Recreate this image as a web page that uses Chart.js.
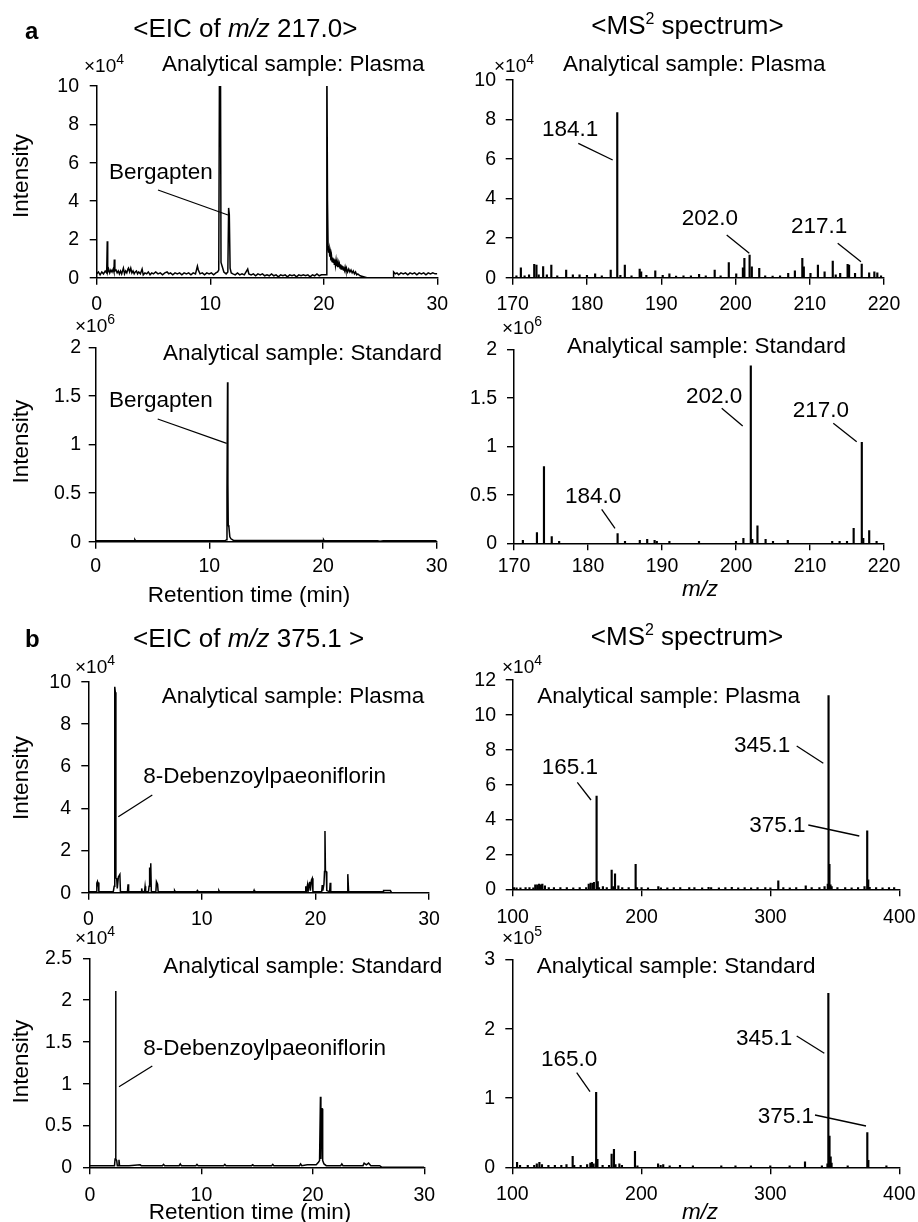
<!DOCTYPE html>
<html><head><meta charset="utf-8">
<script src="https://cdn.jsdelivr.net/npm/chart.js@4.4.1/dist/chart.umd.min.js"></script>
<style>
html,body{margin:0;padding:0;background:#fff;width:918px;height:1222px;overflow:hidden}
canvas{position:absolute;left:0;top:0}
</style></head><body>
<script>
// ---------------- DATA ----------------
// EIC traces: [retention time (min), intensity]
const eicPlasma217 = [[0,0.2],[0.15,0.3],[0.3,0.15],[0.45,0.3],[0.6,0.2],[0.75,0.35],[0.88,0.25],[0.93,1.9],[0.97,0.3],[1.05,0.45],[1.15,0.25],[1.25,0.4],[1.35,0.3],[1.45,0.45],[1.52,0.3],[1.55,0.95],[1.6,0.35],[1.7,0.4],[1.8,0.25],[1.9,0.35],[2.0,0.2],[2.1,0.35],[2.2,0.2],[2.35,0.5],[2.45,0.2],[2.55,0.35],[2.65,0.25],[2.75,0.45],[2.8,0.5],[2.9,0.3],[3.0,0.5],[3.1,0.25],[3.2,0.35],[3.3,0.2],[3.4,0.3],[3.5,0.35],[3.6,0.2],[3.7,0.3],[3.85,0.2],[4.0,0.45],[4.1,0.15],[4.25,0.25],[4.4,0.2],[4.55,0.3],[4.7,0.15],[4.85,0.25],[5.0,0.2],[5.2,0.3],[5.4,0.2],[5.6,0.25],[5.8,0.15],[6.0,0.25],[6.2,0.3],[6.35,0.2],[6.5,0.25],[6.7,0.15],[6.9,0.25],[7.1,0.2],[7.3,0.25],[7.5,0.15],[7.7,0.25],[7.9,0.2],[8.1,0.25],[8.3,0.15],[8.5,0.25],[8.7,0.2],[8.87,0.6],[8.95,0.4],[9.1,0.2],[9.3,0.25],[9.5,0.15],[9.7,0.25],[9.9,0.2],[10.1,0.25],[10.3,0.15],[10.5,0.25],[10.65,0.3],[10.75,0.4],[10.82,12],[10.9,12],[10.95,0.8],[11.05,0.6],[11.2,0.3],[11.4,0.2],[11.55,0.3],[11.62,3.64],[11.68,3.3],[11.75,0.5],[11.85,0.25],[12.0,0.2],[12.2,0.15],[12.4,0.25],[12.6,0.15],[12.8,0.2],[13.0,0.15],[13.3,0.45],[13.4,0.2],[13.6,0.15],[13.8,0.2],[14.0,0.1],[14.2,0.2],[14.4,0.15],[14.6,0.2],[14.8,0.1],[15.0,0.15],[15.2,0.1],[15.4,0.2],[15.6,0.1],[15.8,0.15],[16.0,0.05],[16.2,0.15],[16.4,0.1],[16.6,0.15],[16.8,0.05],[17.0,0.15],[17.2,0.1],[17.4,0.15],[17.6,0.05],[17.8,0.15],[18.0,0.1],[18.2,0.15],[18.4,0.1],[18.6,0.15],[18.8,0.05],[19.0,0.15],[19.2,0.1],[19.4,0.2],[19.6,0.1],[19.8,0.15],[20.0,0.15],[20.25,0.15],[20.27,12],[20.33,4.0],[20.38,1.6],[20.43,1.3],[20.48,1.5],[20.53,1.1],[20.58,1.3],[20.63,0.9],[20.68,1.15],[20.73,0.85],[20.78,1.05],[20.83,0.8],[20.88,1.0],[20.93,0.7],[20.98,0.95],[21.03,0.65],[21.08,0.9],[21.13,0.6],[21.18,0.8],[21.23,0.55],[21.28,0.75],[21.33,0.55],[21.38,0.7],[21.43,0.5],[21.48,0.7],[21.53,0.45],[21.58,0.65],[21.63,0.45],[21.68,0.6],[21.73,0.4],[21.78,0.55],[21.83,0.4],[21.88,0.55],[21.95,0.35],[22.0,0.5],[22.1,0.3],[22.2,0.45],[22.3,0.3],[22.4,0.4],[22.5,0.25],[22.6,0.35],[22.7,0.2],[22.8,0.3],[22.9,0.15],[23.0,0.2],[23.2,0.1],[23.5,0.05],[23.8,0],[26.1,0],[26.15,0.3],[26.3,0.2],[26.45,0.25],[26.6,0.15],[26.8,0.25],[27.0,0.2],[27.2,0.25],[27.4,0.15],[27.6,0.25],[27.8,0.2],[28.0,0.25],[28.2,0.15],[28.4,0.25],[28.6,0.2],[28.8,0.25],[29.0,0.15],[29.2,0.25],[29.4,0.2],[29.6,0.25],[29.8,0.2],[30,0.2]];
const eicStandard217 = [[0,0.01],[3.4,0.012],[3.45,0.02],[3.5,0.01],[11.4,0.01],[11.5,0.02],[11.55,0.5],[11.6,1.64],[11.63,0.6],[11.66,0.17],[11.72,0.15],[11.8,0.05],[11.9,0.03],[12.1,0.015],[20,0.012],[20.05,0.02],[20.1,0.01],[24.8,0.01],[25,0.005],[25.3,0.01],[30,0.01]];
const eicPlasma375 = [[0,0.05],[0.5,0.05],[0.7,0.05],[0.75,0.45],[0.8,0.52],[0.85,0.3],[0.88,0.48],[0.93,0.05],[1.5,0.05],[2.2,0.05],[2.28,0.3],[2.33,9.76],[2.38,9.5],[2.43,0.7],[2.5,0.68],[2.55,0.2],[2.65,0.75],[2.78,0.87],[2.83,0.05],[3.0,0.05],[3.45,0.05],[3.5,0.4],[3.55,0.05],[4.0,0.05],[4.65,0.05],[4.7,0.2],[4.75,0.05],[4.95,0.05],[5.0,0.3],[5.05,0.05],[5.3,0.05],[5.35,0.3],[5.4,1.2],[5.45,0.4],[5.5,1.39],[5.55,0.05],[5.95,0.05],[6.0,0.52],[6.1,0.4],[6.15,0.05],[7.55,0.05],[7.6,0.1],[7.65,0.05],[9.55,0.05],[9.6,0.1],[9.65,0.05],[11.45,0.05],[11.5,0.1],[11.55,0.05],[14.55,0.05],[14.6,0.12],[14.65,0.05],[19.1,0.05],[19.15,0.3],[19.2,0.05],[19.3,0.36],[19.35,0.05],[19.45,0.45],[19.5,0.52],[19.55,0.1],[19.65,0.6],[19.72,0.68],[19.78,0.05],[20.55,0.05],[20.6,0.36],[20.65,0.1],[20.75,0.4],[20.8,1.0],[20.84,2.92],[20.88,1.04],[20.95,1.0],[21.0,0.1],[21.25,0.05],[21.3,0.47],[21.35,0.05],[22.8,0.05],[22.85,0.88],[22.92,0.05],[25.95,0.05],[26.0,0.1],[26.6,0.1],[26.7,0]];
const eicStandard375 = [[0,0.02],[1.0,0.02],[2.2,0.02],[2.25,0.1],[2.3,2.11],[2.33,0.1],[2.4,0.08],[2.45,0.02],[2.55,0.02],[2.6,0.09],[2.65,0.02],[3.5,0.02],[4.5,0.03],[4.6,0.02],[6.5,0.02],[6.6,0.035],[6.7,0.02],[8.0,0.02],[8.1,0.04],[8.2,0.02],[9.5,0.02],[9.6,0.035],[9.7,0.02],[12,0.02],[12.1,0.035],[12.2,0.02],[14.5,0.02],[14.6,0.03],[14.7,0.02],[16.3,0.02],[16.4,0.035],[16.5,0.02],[18.8,0.02],[18.9,0.04],[19.0,0.02],[19.5,0.03],[20.3,0.03],[20.5,0.06],[20.6,0.08],[20.68,0.845],[20.72,0.1],[20.78,0.7],[20.83,0.7],[20.88,0.08],[21.0,0.04],[21.2,0.02],[22.5,0.02],[22.6,0.04],[22.7,0.02],[24.5,0.02],[24.6,0.05],[24.8,0.03],[25.0,0.05],[25.2,0.02],[26.0,0.02],[26.2,0],[30,0]];
// MS2 spectra: [m/z, intensity]
const ms2Plasma217 = [[170.5,0.1],[171.1,0.5],[171.6,0.1],[172.2,0.15],[172.9,0.67],[173.2,0.64],[173.5,0.15],[174.1,0.56],[174.6,0.15],[175.2,0.64],[176.0,0.1],[177.2,0.39],[178.1,0.15],[179.0,0.15],[180.0,0.12],[181.1,0.2],[182.0,0.1],[183.2,0.39],[184.08,8.35],[184.5,0.12],[185.1,0.64],[186.0,0.1],[187.1,0.44],[187.3,0.3],[188.0,0.12],[189.2,0.35],[190.2,0.12],[191.1,0.19],[192.0,0.08],[193.0,0.1],[194.0,0.1],[195.1,0.17],[196.0,0.1],[197.2,0.39],[198.0,0.1],[199.1,0.76],[200.1,0.2],[201.0,0.5],[201.2,0.98],[201.9,1.15],[202.2,0.55],[203.2,0.47],[204.0,0.1],[205.0,0.08],[206.0,0.1],[207.1,0.22],[208.0,0.35],[209.0,0.98],[209.2,0.55],[210.1,0.22],[211.1,0.64],[212.0,0.3],[213.1,0.84],[213.5,0.15],[214.1,0.22],[215.1,0.67],[215.3,0.64],[216.1,0.22],[217.0,0.69],[218.0,0.25],[218.7,0.3],[219.1,0.25],[219.6,0.1]];
const ms2Standard217 = [[171.2,0.03],[173.1,0.11],[174.05,0.79],[175.1,0.07],[176.1,0.02],[184.0,0.1],[185.0,0.02],[187.0,0.03],[188.0,0.04],[189.0,0.03],[189.3,0.02],[191.0,0.02],[195.0,0.02],[200.0,0.02],[201.0,0.05],[202.0,1.83],[202.2,0.04],[202.9,0.18],[204.0,0.04],[205.0,0.02],[207.0,0.03],[213.0,0.02],[214.0,0.02],[215.0,0.02],[215.9,0.155],[217.0,1.04],[217.2,0.05],[218.0,0.13],[219.0,0.02]];
const ms2Plasma375 = [[101,0.1],[103,0.08],[106,0.08],[110,0.1],[113,0.1],[116,0.08],[117.5,0.25],[119,0.25],[120.5,0.3],[122,0.25],[123,0.3],[125,0.2],[128,0.1],[132,0.1],[137,0.1],[142,0.1],[147,0.08],[152,0.1],[157,0.1],[159,0.3],[160.5,0.35],[162,0.34],[163,0.4],[165.1,5.35],[166,0.44],[167,0.1],[170,0.15],[173,0.1],[176.8,1.1],[178,0.15],[179.4,0.88],[182,0.2],[185,0.1],[190,0.1],[195.4,1.43],[196.5,0.1],[200,0.1],[205,0.08],[213,0.15],[215,0.08],[220,0.08],[225,0.1],[230,0.1],[237,0.1],[241,0.1],[247,0.08],[252,0.12],[254,0.1],[260,0.08],[265,0.1],[270,0.12],[275,0.08],[280,0.1],[285,0.08],[290,0.1],[296,0.1],[300,0.08],[306.1,0.48],[310,0.1],[315,0.08],[320,0.1],[327.4,0.2],[332,0.1],[338,0.1],[342,0.15],[344.5,0.3],[345.1,11.1],[345.8,1.43],[346.6,0.25],[347.5,0.15],[352,0.1],[358,0.1],[363,0.08],[368,0.1],[373,0.15],[375.1,3.35],[375.9,0.54],[377,0.12],[382,0.1],[387,0.08],[392,0.1],[396,0.1]];
const ms2Standard375 = [[103.7,0.07],[106,0.03],[112,0.03],[117,0.03],[119,0.05],[121,0.07],[123,0.04],[128,0.03],[133,0.03],[138,0.03],[142,0.04],[146.8,0.16],[148,0.03],[153,0.03],[158,0.04],[160.5,0.06],[161.7,0.07],[163,0.05],[165.0,1.08],[166,0.115],[170,0.03],[175,0.03],[177,0.19],[178.8,0.26],[180,0.04],[183,0.05],[185,0.03],[195.1,0.23],[197,0.02],[213,0.05],[215,0.03],[217,0.04],[222,0.02],[230,0.03],[240,0.02],[262,0.02],[273,0.02],[285,0.02],[300,0.02],[315,0.02],[326.9,0.08],[340,0.02],[344.3,0.05],[345.0,2.51],[345.9,0.45],[346.8,0.15],[347.5,0.06],[360,0.02],[375.2,0.5],[376,0.1],[390,0.02]];
// Tick labels
const rtTicks = ['0','10','20','30'];
const mz217Ticks = ['170','180','190','200','210','220'];
const mz375Ticks = ['100','200','300','400'];
const y10Ticks = ['0','2','4','6','8','10'];
const y12Ticks = ['0','2','4','6','8','10','12'];
const y2Ticks = ['0','0.5','1','1.5','2'];
const y25Ticks = ['0','0.5','1','1.5','2','2.5'];
const y3Ticks = ['0','1','2','3'];

// ---------------- LAYOUT / STYLE ----------------
const FONT = '"Liberation Sans", Arial, Helvetica, sans-serif';
const TS = 22.5; // annotation size
const mult = (e) => [{t:'×',s:19},{t:'10',s:19},{t:e,s:14,dy:-8}];
const ms2Title = [{t:'<MS',s:26},{t:'2',s:16,dy:-10},{t:' spectrum>',s:26}];

const panels = [
 {kind:'eic', data:eicPlasma217, area:[96.7,86,437.3,277.7], xt:rtTicks, yt:y10Ticks, yR:79, xB:310,
  texts:[
   {p:[{t:'a',s:24,st:'bold'}],x:25,y:39},
   {p:[{t:'<EIC of ',s:26},{t:'m/z',s:26,st:'italic'},{t:' 217.0>',s:26}],x:133.3,y:36.5},
   {p:mult('4'),x:84,y:72},
   {p:'Analytical sample: Plasma',x:162,y:70.7},
   {p:'Bergapten',x:109,y:179.3},
   {p:'Intensity',x:22,y:176,rot:true}],
  lines:[[158,190,228,215]]},
 {kind:'ms', data:ms2Plasma217, area:[512.7,80,884,277.7], xt:mz217Ticks, yt:y10Ticks, yR:496, xB:310,
  texts:[
   {p:ms2Title,x:687.5,y:34,a:'center'},
   {p:mult('4'),x:494,y:72},
   {p:'Analytical sample: Plasma',x:563,y:70.7},
   {p:'184.1',x:542,y:136},{p:'202.0',x:681.7,y:225},{p:'217.1',x:791,y:232.7}],
  lines:[[578.3,143.3,612.7,160],[726.7,235,749.3,253.3],[837.7,243.3,861,261.7]]},
 {kind:'eic', data:eicStandard217, area:[95.7,347.3,436.7,541.7], xt:rtTicks, yt:y2Ticks, yR:81, xB:571.5,
  texts:[
   {p:mult('6'),x:75,y:332},
   {p:'Analytical sample: Standard',x:163,y:360},
   {p:'Bergapten',x:109,y:406.7},
   {p:'Intensity',x:22,y:441.7,rot:true},
   {p:'Retention time (min)',x:249,y:601.5,a:'center'}],
  lines:[[157.7,419,226.7,443.3]]},
 {kind:'ms', data:ms2Standard217, area:[514,349.3,884,543.3], xt:mz217Ticks, yt:y2Ticks, yR:497, xB:571.5,
  texts:[
   {p:mult('6'),x:502,y:333.5},
   {p:'Analytical sample: Standard',x:567,y:352.7},
   {p:'202.0',x:686,y:403.3},{p:'217.0',x:792.7,y:416.7},{p:'184.0',x:565,y:502.7},
   {p:[{t:'m/z',s:TS,st:'italic'}],x:700,y:596,a:'center'}],
  lines:[[721.7,408.3,742.7,426],[833.3,423.3,856.7,441.7],[601.7,509.3,615,528.3]]},
 {kind:'eic', data:eicPlasma375, area:[88.3,681.7,429,892.7], xt:rtTicks, yt:y10Ticks, yR:71, xB:925,
  texts:[
   {p:[{t:'b',s:24,st:'bold'}],x:25,y:647},
   {p:[{t:'<EIC of ',s:26},{t:'m/z',s:26,st:'italic'},{t:' 375.1 >',s:26}],x:133,y:646.7},
   {p:mult('4'),x:75,y:673},
   {p:'Analytical sample: Plasma',x:161.7,y:702.7},
   {p:'8-Debenzoylpaeoniflorin',x:143.3,y:783.3},
   {p:'Intensity',x:22,y:778,rot:true}],
  lines:[[152.3,795,118.3,816.7]]},
 {kind:'ms', data:ms2Plasma375, area:[512.7,680,899.3,889.3], xt:mz375Ticks, yt:y12Ticks, yR:496, xB:923,
  texts:[
   {p:ms2Title,x:687,y:645,a:'center'},
   {p:mult('4'),x:502,y:673},
   {p:'Analytical sample: Plasma',x:537.3,y:702.7},
   {p:'345.1',x:734,y:751.7},{p:'165.1',x:541.7,y:774},{p:'375.1',x:749.3,y:831.7}],
  lines:[[796.7,746,823.3,763.3],[577.3,782.3,591,800],[808.3,825,859.3,836]]},
 {kind:'eic', data:eicStandard375, area:[90,958.3,424.3,1167.3], xt:rtTicks, yt:y25Ticks, yR:72, xB:1200.5,
  texts:[
   {p:mult('4'),x:75,y:943.5},
   {p:'Analytical sample: Standard',x:163.3,y:972.7},
   {p:'8-Debenzoylpaeoniflorin',x:143.3,y:1055},
   {p:'Intensity',x:22,y:1061.7,rot:true},
   {p:'Retention time (min)',x:250,y:1219,a:'center'}],
  lines:[[152.3,1066,119,1086.7]]},
 {kind:'ms', data:ms2Standard375, area:[512.3,959.3,899.3,1167.3], xt:mz375Ticks, yt:y3Ticks, yR:495, xB:1200,
  texts:[
   {p:mult('5'),x:502,y:943.5},
   {p:'Analytical sample: Standard',x:536.7,y:972.7},
   {p:'345.1',x:736,y:1045},{p:'165.0',x:541,y:1066},{p:'375.1',x:757.7,y:1122.7},
   {p:[{t:'m/z',s:TS,st:'italic'}],x:700,y:1219,a:'center'}],
  lines:[[796.7,1036,824.3,1053.3],[576.7,1072.7,590,1091.7],[815,1115,866,1126]]}
];

function drawParts(ctx, parts, x, y, align, rot) {
  if (typeof parts === 'string') parts = [{t:parts, s:TS}];
  let w = 0;
  parts.forEach(p => { ctx.font = `${p.st||''} ${p.s}px ${FONT}`; p.w = ctx.measureText(p.t).width; w += p.w; });
  ctx.save();
  ctx.translate(x, y);
  if (rot) ctx.rotate(-Math.PI/2);
  let cx = (align === 'center' || rot) ? -w/2 : (align === 'right' ? -w : 0);
  ctx.textAlign = 'left';
  ctx.textBaseline = rot ? 'middle' : 'alphabetic';
  ctx.fillStyle = '#000';
  parts.forEach(p => { ctx.font = `${p.st||''} ${p.s}px ${FONT}`; ctx.fillText(p.t, cx, p.dy||0); cx += p.w; });
  ctx.restore();
}

function makeChart(p) {
  const cv = document.createElement('canvas');
  cv.width = 918; cv.height = 1222;
  document.body.appendChild(cv);
  const [l,t,r,b] = p.area;
  const xv = p.xt.map(Number), yv = p.yt.map(Number);
  const pts = p.data.map(([x,y]) => ({x, y}));
  const ds = p.kind === 'eic'
    ? {type:'line', data:pts, borderColor:'#000', borderWidth:1.5, pointRadius:0, tension:0, fill:false, spanGaps:true}
    : {type:'bar', data:pts, backgroundColor:'#000', borderWidth:0, barThickness:1.5, grouped:false};
  const axisCommon = {
    type:'linear', offset:false,
    ticks:{display:false},
    grid:{display:true, drawOnChartArea:false, drawTicks:true, tickLength:7, color:'#000', lineWidth:1.4, offset:false},
    border:{display:true, color:'#000', width:1.5}
  };
  const labelPlugin = {
    id:'labels'+Math.random().toString(36).slice(2),
    afterDraw(chart) {
      const ctx = chart.ctx;
      const xs = chart.scales.x, ys = chart.scales.y;
      ctx.save();
      ctx.fillStyle = '#000';
      ctx.font = `19.5px ${FONT}`;
      ctx.textAlign = 'right'; ctx.textBaseline = 'middle';
      p.yt.forEach(s => ctx.fillText(s, p.yR, ys.getPixelForValue(Number(s)) + 0.5));
      ctx.textAlign = 'center'; ctx.textBaseline = 'alphabetic';
      p.xt.forEach(s => ctx.fillText(s, xs.getPixelForValue(Number(s)), p.xB));
      ctx.strokeStyle = '#000'; ctx.lineWidth = 1.3;
      p.lines.forEach(([x1,y1,x2,y2]) => { ctx.beginPath(); ctx.moveTo(x1,y1); ctx.lineTo(x2,y2); ctx.stroke(); });
      ctx.restore();
      p.texts.forEach(tx => drawParts(ctx, tx.p, tx.x, tx.y, tx.a, tx.rot));
    }
  };
  new Chart(cv, {
    type: ds.type,
    data: {datasets:[ds]},
    options: {
      responsive:false, maintainAspectRatio:false, animation:false, events:[],
      layout:{padding:{left:l, top:t, right:918-r, bottom:1222-b}},
      plugins:{legend:{display:false}, tooltip:{enabled:false}, title:{display:false}},
      scales:{
        x:Object.assign({}, axisCommon, {min:xv[0], max:xv[xv.length-1],
           afterFit:s=>{s.height=0;}, afterBuildTicks:s=>{s.ticks = xv.map(v=>({value:v}));}}),
        y:Object.assign({}, axisCommon, {min:yv[0], max:yv[yv.length-1],
           afterFit:s=>{s.width=0;}, afterBuildTicks:s=>{s.ticks = yv.map(v=>({value:v}));}})
      }
    },
    plugins:[labelPlugin]
  });
}
panels.forEach(makeChart);
</script>
</body></html>
